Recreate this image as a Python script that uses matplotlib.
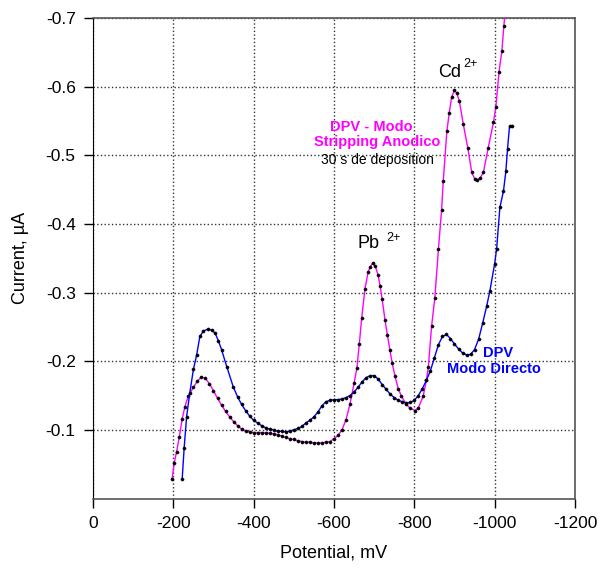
import numpy as np
import matplotlib.pyplot as plt
import matplotlib as mpl

mpl.rcParams['font.family'] = ['Liberation Sans', 'DejaVu Sans']

# ================= Data =================
# Potential in mV, current in uA (both negative, as on the original axes)
strip_mv = [-197, -202, -208, -215, -222, -229, -237, -250, -260, -270, -280, -290,
            -300, -310, -320, -330, -340, -350, -360, -370, -380, -390,
            -400, -410, -420, -430, -440, -450, -460, -470, -480, -490,
            -500, -510, -520, -530, -540, -550, -560, -570, -580, -590,
            -600, -610, -620, -630, -640, -650, -657, -663, -669, -677, -685, -690,
            -696, -703, -710, -715, -720, -727, -733, -739, -745, -752, -760, -768,
            -780, -789, -802, -810, -822, -830, -835, -843, -851, -860, -868, -872,
            -881, -887, -893, -900, -906, -912, -922, -933, -943, -950, -957, -964,
            -972, -984, -997, -1003, -1011, -1018, -1023, -1028]
strip_ua = [-0.028, -0.051, -0.068, -0.090, -0.116, -0.134, -0.149, -0.162, -0.171, -0.177, -0.175, -0.167,
            -0.157, -0.146, -0.136, -0.127, -0.119, -0.112, -0.106, -0.101, -0.098, -0.097,
            -0.096, -0.096, -0.096, -0.096, -0.095, -0.094, -0.093, -0.091, -0.089, -0.087,
            -0.086, -0.084, -0.083, -0.082, -0.082, -0.081, -0.081, -0.081, -0.082, -0.083,
            -0.087, -0.092, -0.100, -0.115, -0.138, -0.168, -0.190, -0.225, -0.263, -0.305, -0.330, -0.337,
            -0.343, -0.338, -0.325, -0.309, -0.290, -0.260, -0.238, -0.217, -0.197, -0.178, -0.160, -0.149,
            -0.137, -0.132, -0.128, -0.132, -0.149, -0.172, -0.192, -0.251, -0.292, -0.363, -0.421, -0.462,
            -0.535, -0.562, -0.585, -0.595, -0.590, -0.579, -0.545, -0.511, -0.475, -0.466, -0.464, -0.467,
            -0.475, -0.511, -0.548, -0.570, -0.622, -0.652, -0.689, -0.720]

direct_mv = [-222, -227, -233, -241, -250, -258, -266, -275, -287, -296,
             -304, -312, -320, -333, -349, -360, -370, -380, -390,
             -400, -410, -420, -430, -440, -450, -460, -470, -480, -490,
             -500, -510, -520, -530, -540, -550, -560, -570, -580, -590,
             -600, -610, -620, -630, -640, -650, -660, -670, -680, -690,
             -700, -710, -720, -730, -740, -750, -760, -770, -780, -790,
             -800, -810, -820, -830, -840, -850, -860, -870, -880, -890,
             -900, -910, -920, -930, -940, -950, -960, -970, -980, -988,
             -1000, -1005, -1013, -1022, -1028, -1032, -1037, -1042]
direct_ua = [-0.028, -0.074, -0.119, -0.154, -0.188, -0.209, -0.236, -0.244, -0.247, -0.245,
             -0.241, -0.230, -0.217, -0.192, -0.163, -0.148, -0.137, -0.128, -0.120,
             -0.114, -0.110, -0.106, -0.103, -0.101, -0.100, -0.098, -0.098, -0.097, -0.098,
             -0.100, -0.102, -0.105, -0.110, -0.114, -0.119, -0.126, -0.135, -0.141, -0.143,
             -0.144, -0.144, -0.145, -0.147, -0.150, -0.155, -0.162, -0.170, -0.176, -0.179,
             -0.179, -0.174, -0.166, -0.159, -0.152, -0.147, -0.143, -0.141, -0.139, -0.140,
             -0.143, -0.150, -0.160, -0.172, -0.186, -0.205, -0.224, -0.236, -0.239, -0.233,
             -0.225, -0.218, -0.212, -0.209, -0.210, -0.217, -0.232, -0.255, -0.280, -0.302,
             -0.342, -0.364, -0.424, -0.448, -0.477, -0.509, -0.542, -0.542]

x_ticks = [0, -200, -400, -600, -800, -1000, -1200]
y_ticks = [-0.1, -0.2, -0.3, -0.4, -0.5, -0.6, -0.7]

# ================= Figure =================
fig = plt.figure(figsize=(6, 5.69), dpi=100)
ax = fig.add_axes([0.155, 0.1239, 0.8033, 0.8445])

ax.plot(strip_mv, strip_ua, color='#FF00FF', linewidth=1.0,
        marker='o', markersize=2.3, markerfacecolor='black',
        markeredgecolor='black', markeredgewidth=0.3, zorder=3)
ax.plot(direct_mv, direct_ua, color='#0000FF', linewidth=1.0,
        marker='o', markersize=2.3, markerfacecolor='black',
        markeredgecolor='black', markeredgewidth=0.3, zorder=3)

ax.set_xlim(0, -1200)
ax.set_ylim(0, -0.7)
ax.set_xticks(x_ticks)
ax.set_xticklabels([str(v) for v in x_ticks])
ax.set_yticks(y_ticks)
ax.set_yticklabels([f'{v:.1f}' for v in y_ticks])
ax.tick_params(direction='out', length=6.5, width=1, labelsize=12.5, pad=6)
ax.grid(True, linestyle=':', color='#333333', linewidth=1.0)

ax.spines['left'].set_color('black')
for side in ['top', 'right', 'bottom']:
    ax.spines[side].set_color('#555555')
    ax.spines[side].set_linewidth(1.2)

ax.set_xlabel('Potential, mV', fontsize=13, labelpad=10)
ax.set_ylabel('Current, µA', fontsize=13, labelpad=12)

# ================= Annotations =================
ax.text(-889, -0.621, 'Cd', fontsize=13, ha='center', va='center')
ax.text(-941, -0.633, '2+', fontsize=9, ha='center', va='center')
ax.text(-687, -0.372, 'Pb', fontsize=13, ha='center', va='center')
ax.text(-747, -0.379, '2+', fontsize=9, ha='center', va='center')

ax.text(-694, -0.541, 'DPV - Modo', fontsize=10.5, fontweight='bold',
        color='#FF00FF', ha='center', va='center')
ax.text(-707, -0.519, 'Stripping Anodico', fontsize=10.5, fontweight='bold',
        color='#FF00FF', ha='center', va='center')
ax.text(-709, -0.493, '30 s de deposition', fontsize=10, color='black',
        ha='center', va='center')

ax.text(-1008, -0.212, 'DPV', fontsize=10.5, fontweight='bold',
        color='#0000FF', ha='center', va='center')
ax.text(-998, -0.188, 'Modo Directo', fontsize=10.5, fontweight='bold',
        color='#0000FF', ha='center', va='center')

plt.savefig('out.png', dpi=100)
plt.close()
